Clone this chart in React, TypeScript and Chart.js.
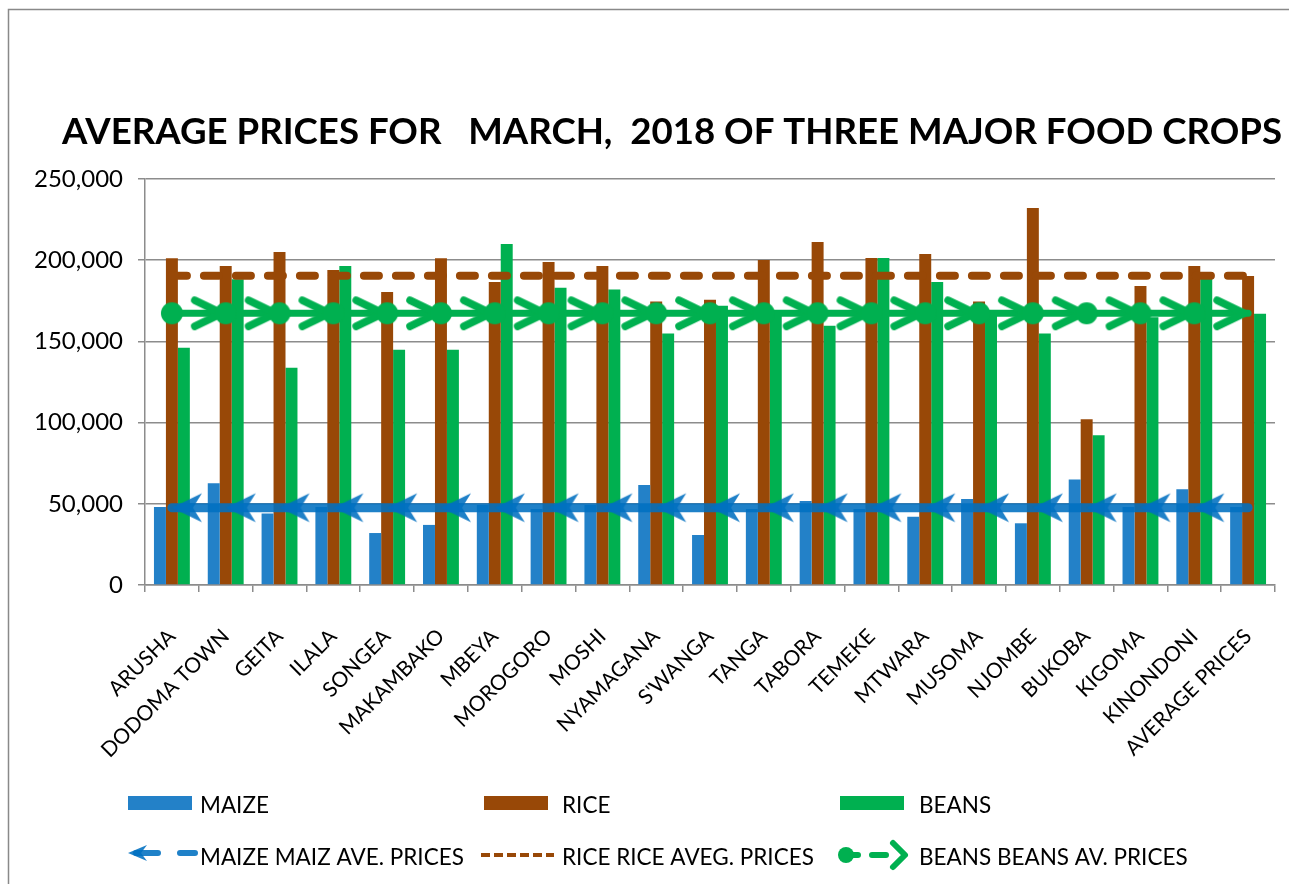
import React, { useEffect, useRef } from 'react';
import { Chart, registerables } from 'chart.js';

Chart.register(...registerables);

const categories = [
  'ARUSHA', 'DODOMA TOWN', 'GEITA', 'ILALA', 'SONGEA', 'MAKAMBAKO', 'MBEYA',
  'MOROGORO', 'MOSHI', 'NYAMAGANA', "S'WANGA", 'TANGA', 'TABORA', 'TEMEKE',
  'MTWARA', 'MUSOMA', 'NJOMBE', 'BUKOBA', 'KIGOMA', 'KINONDONI', 'AVERAGE PRICES',
];

const maizePrices = [
  48000, 62600, 44000, 48000, 32000, 37000, 49300, 46800, 49300, 61600, 30800,
  46800, 51700, 46800, 42000, 53000, 38000, 65000, 48000, 59000, 48000,
];
const ricePrices = [
  201200, 196400, 205100, 194000, 180400, 201200, 186600, 198900, 196400, 174500,
  175700, 200100, 211200, 201400, 203800, 174500, 232200, 102000, 184100, 196400, 190300,
];
const beansPrices = [
  146100, 188200, 133800, 196400, 144900, 144900, 210000, 183100, 181900, 154800,
  172000, 166300, 159700, 201400, 186600, 169300, 154800, 92200, 164800, 190300, 167100,
];
const maizeAverage = [
  47600, 47600, 47600, 47600, 47600, 47600, 47600, 47600, 47600, 47600, 47600,
  47600, 47600, 47600, 47600, 47600, 47600, 47600, 47600, 47600, 47600,
];
const riceAverage = [
  190500, 190500, 190500, 190500, 190500, 190500, 190500, 190500, 190500, 190500, 190500,
  190500, 190500, 190500, 190500, 190500, 190500, 190500, 190500, 190500, 190500,
];
const beansAverage = [
  167300, 167300, 167300, 167300, 167300, 167300, 167300, 167300, 167300, 167300, 167300,
  167300, 167300, 167300, 167300, 167300, 167300, 167300, 167300, 167300, 167300,
];
const yTickValues = [0, 50000, 100000, 150000, 200000, 250000];

const TITLE = 'AVERAGE PRICES FOR   MARCH,  2018 OF THREE MAJOR FOOD CROPS';
const FONT = 'Lato';
const MAIZE = '#2381C8';
const MAIZE_LINE = 'rgba(0,112,192,0.88)';
const RICE = '#984807';
const BEANS = '#00B050';
const GRID = '#8C8C8C';

function makeCanvas(w: number, h: number) {
  const c = document.createElement('canvas');
  c.width = w;
  c.height = h;
  return c;
}

function drawMaizeArrow(ctx: CanvasRenderingContext2D, tx: number, ty: number, len: number, half: number, notch: number, color: string) {
  ctx.fillStyle = color;
  ctx.beginPath();
  ctx.moveTo(tx, ty);
  ctx.lineTo(tx + len, ty - half);
  ctx.lineTo(tx + notch, ty);
  ctx.lineTo(tx + len, ty + half);
  ctx.closePath();
  ctx.fill();
}

function drawChevron(ctx: CanvasRenderingContext2D, tipX: number, cy: number, len: number, half: number, lw: number, color: string) {
  ctx.strokeStyle = color;
  ctx.lineWidth = lw;
  ctx.lineCap = 'round';
  ctx.lineJoin = 'round';
  ctx.beginPath();
  ctx.moveTo(tipX - len, cy - half);
  ctx.lineTo(tipX, cy);
  ctx.lineTo(tipX - len, cy + half);
  ctx.stroke();
}

function makeMaizeMarker() {
  const c = makeCanvas(64, 34);
  const ctx = c.getContext('2d')!;
  drawMaizeArrow(ctx, 32, 17, 30, 14.5, 21, MAIZE_LINE);
  return c;
}

function makeBeansMarker(dot: boolean, chevron: boolean) {
  const c = makeCanvas(80, 40);
  const ctx = c.getContext('2d')!;
  if (chevron) drawChevron(ctx, 36, 20, 27, 13, 7.5, BEANS);
  if (dot) {
    ctx.fillStyle = BEANS;
    ctx.beginPath();
    ctx.arc(40, 20, 11, 0, Math.PI * 2);
    ctx.fill();
  }
  return c;
}

const framePlugin = {
  id: 'frame',
  beforeDraw(chart: any) {
    const ctx = chart.ctx;
    ctx.save();
    ctx.fillStyle = '#fff';
    ctx.fillRect(0, 0, chart.width, chart.height);
    ctx.strokeStyle = '#898989';
    ctx.lineWidth = 1.5;
    ctx.beginPath();
    ctx.moveTo(8.5, chart.height);
    ctx.lineTo(8.5, 9.5);
    ctx.lineTo(chart.width, 9.5);
    ctx.stroke();
    ctx.restore();
  },
};

const titlePlugin = {
  id: 'customTitle',
  afterDraw(chart: any) {
    const ctx = chart.ctx;
    ctx.save();
    ctx.font = `bold 36px ${FONT}`;
    ctx.fillStyle = '#000';
    ctx.textBaseline = 'alphabetic';
    ctx.textAlign = 'left';
    const w = ctx.measureText(TITLE).width;
    ctx.translate(62, 144);
    ctx.scale(1220 / w, 1);
    ctx.fillText(TITLE, 0, 0);
    ctx.restore();
  },
};

const legendPlugin = {
  id: 'gridLegend',
  afterDraw(chart: any) {
    const ctx = chart.ctx;
    const ds = chart.data.datasets;
    const cols = [128, 484, 840];
    const textX = [200, 562, 919];
    const rows = [804, 856];
    ctx.save();
    ctx.font = `22.5px ${FONT}`;
    ctx.fillStyle = '#000';
    ctx.textBaseline = 'middle';
    ctx.textAlign = 'left';
    for (let i = 0; i < 3; i++) {
      ctx.fillStyle = ds[i].backgroundColor;
      ctx.fillRect(cols[i], rows[0] - 8, 64, 14);
      ctx.fillStyle = '#000';
      ctx.fillText(ds[i].label, textX[i], rows[0] + 2);
    }
    const y = rows[1];
    ctx.strokeStyle = MAIZE_LINE;
    ctx.lineWidth = 6;
    ctx.lineCap = 'round';
    ctx.beginPath();
    ctx.moveTo(136, y - 3);
    ctx.lineTo(158, y - 3);
    ctx.moveTo(180, y - 3);
    ctx.lineTo(195, y - 3);
    ctx.stroke();
    drawMaizeArrow(ctx, 128, y - 3, 19, 8, 13, MAIZE_LINE);
    ctx.strokeStyle = RICE;
    ctx.lineWidth = 4;
    ctx.lineCap = 'butt';
    ctx.setLineDash([9, 4]);
    ctx.beginPath();
    ctx.moveTo(481, y - 1);
    ctx.lineTo(554, y - 1);
    ctx.stroke();
    ctx.setLineDash([]);
    ctx.fillStyle = BEANS;
    ctx.beginPath();
    ctx.arc(846, y - 1, 8, 0, Math.PI * 2);
    ctx.fill();
    ctx.strokeStyle = BEANS;
    ctx.lineWidth = 6;
    ctx.lineCap = 'round';
    ctx.beginPath();
    ctx.moveTo(852, y - 1);
    ctx.lineTo(858, y - 1);
    ctx.moveTo(872, y - 1);
    ctx.lineTo(886, y - 1);
    ctx.stroke();
    drawChevron(ctx, 905, y - 1, 12, 12, 6, BEANS);
    ctx.fillStyle = '#000';
    for (let i = 0; i < 3; i++) {
      ctx.fillText(ds[i + 3].label, textX[i], y + 2);
    }
    ctx.restore();
  },
};

export default function App() {
  const canvasRef = useRef<HTMLCanvasElement | null>(null);

  useEffect(() => {
    if (!canvasRef.current) return;
    const maizeMarker = makeMaizeMarker();
    const beansDot = makeBeansMarker(true, false);
    const beansBoth = makeBeansMarker(true, true);
    const beansChevron = makeBeansMarker(false, true);
    const last = categories.length - 1;

    const chart = new Chart(canvasRef.current, {
      type: 'bar',
      data: {
        labels: categories,
        datasets: [
          { type: 'bar', label: 'MAIZE', data: maizePrices, backgroundColor: MAIZE, order: 3 },
          { type: 'bar', label: 'RICE', data: ricePrices, backgroundColor: RICE, order: 3 },
          { type: 'bar', label: 'BEANS', data: beansPrices, backgroundColor: BEANS, order: 3 },
          {
            type: 'line', label: 'MAIZE MAIZ AVE. PRICES', data: maizeAverage,
            borderColor: MAIZE_LINE, borderWidth: 9, borderCapStyle: 'round', fill: false,
            pointStyle: () => maizeMarker,
            pointRadius: (c: any) => (c.dataIndex === last ? 0 : 5),
            order: 2,
          },
          {
            type: 'line', label: 'RICE RICE AVEG. PRICES', data: riceAverage,
            borderColor: RICE, borderWidth: 8, borderDash: [15, 17], borderCapStyle: 'round',
            fill: false, pointRadius: 0, order: 1,
          },
          {
            type: 'line', label: 'BEANS BEANS AV. PRICES', data: beansAverage,
            borderColor: BEANS, borderWidth: 7, borderCapStyle: 'round', fill: false,
            pointStyle: (c: any) => (c.dataIndex === 0 ? beansDot : c.dataIndex === last ? beansChevron : beansBoth),
            pointRadius: 5,
            order: 0,
          },
        ] as any,
      },
      options: {
        responsive: false,
        animation: false,
        devicePixelRatio: 1,
        events: [],
        layout: { padding: { top: 179, right: 11, bottom: 0, left: 0 } },
        datasets: { bar: { categoryPercentage: 0.667, barPercentage: 1 } } as any,
        plugins: {
          legend: { display: false },
          title: { display: false },
          tooltip: { enabled: false },
        },
        scales: {
          x: {
            grid: { display: true, drawOnChartArea: false, drawTicks: true, tickLength: 7, color: GRID, lineWidth: 1.5, offset: true },
            border: { display: true, color: GRID, width: 1.5 },
            ticks: {
              autoSkip: false, maxRotation: 45, minRotation: 45, padding: 32, color: '#000',
              font: { family: FONT, size: 21 },
            },
            afterFit: (s: any) => { s.height = 299; s.paddingRight = 0; s.paddingLeft = 0; },
          },
          y: {
            min: 0,
            max: 250000,
            afterBuildTicks: (s: any) => { s.ticks = yTickValues.map((v) => ({ value: v })); },
            ticks: {
              padding: 15, color: '#000', font: { family: FONT, size: 24 },
              callback: (v: any) => Number(v).toLocaleString('en-US'),
            },
            grid: { color: GRID, lineWidth: 1.5, tickLength: 7, drawTicks: true },
            border: { display: true, color: GRID, width: 1.5 },
            afterFit: (s: any) => { s.width = 145; s.paddingTop = 0; s.paddingBottom = 0; },
          },
        },
      } as any,
      plugins: [framePlugin, titlePlugin, legendPlugin],
    });
    return () => chart.destroy();
  }, []);

  return (
    <div style={{ position: 'absolute', left: 0, top: 0, width: 1289, height: 884, background: '#fff' }}>
      <canvas ref={canvasRef} width={1289} height={884} style={{ display: 'block' }} />
    </div>
  );
}
